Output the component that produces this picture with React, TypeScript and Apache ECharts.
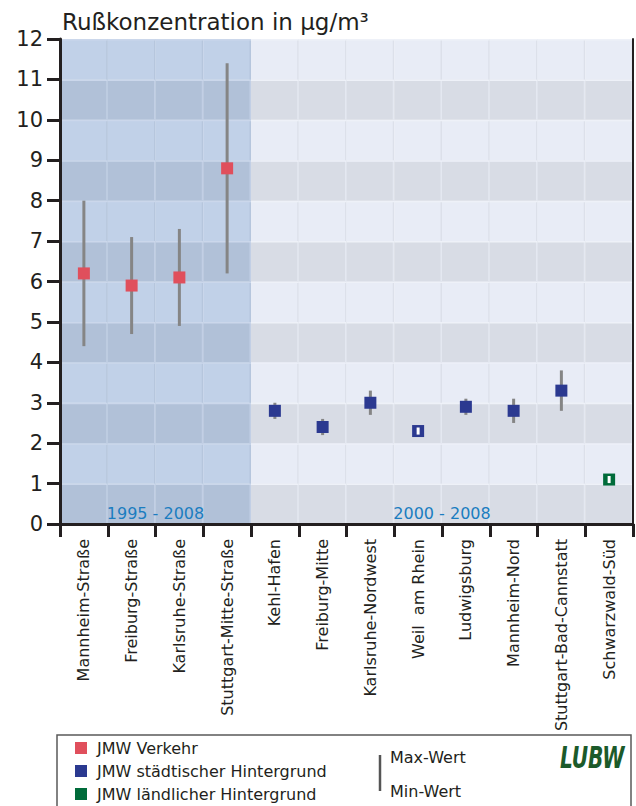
import React, { useEffect, useRef } from "react";
import * as echarts from "echarts";

const categories = [
  "Mannheim-Straße",
  "Freiburg-Straße",
  "Karlsruhe-Straße",
  "Stuttgart-Mitte-Straße",
  "Kehl-Hafen",
  "Freiburg-Mitte",
  "Karlsruhe-Nordwest",
  "Weil  am Rhein",
  "Ludwigsburg",
  "Mannheim-Nord",
  "Stuttgart-Bad-Cannstatt",
  "Schwarzwald-Süd",
];
const stationGroup = [
  "Verkehr", "Verkehr", "Verkehr", "Verkehr",
  "städtisch", "städtisch", "städtisch", "städtisch", "städtisch", "städtisch", "städtisch",
  "ländlich",
];
const values = [6.2, 5.9, 6.1, 8.8, 2.8, 2.4, 3.0, 2.3, 2.9, 2.8, 3.3, 1.1];
const minValues = [4.4, 4.7, 4.9, 6.2, 2.6, 2.2, 2.7, 2.2, 2.7, 2.5, 2.8, 1.0];
const maxValues = [8.0, 7.1, 7.3, 11.4, 3.0, 2.6, 3.3, 2.4, 3.1, 3.1, 3.8, 1.2];

const groupKeys = ["Verkehr", "städtisch", "ländlich"];
const groupNames = ["JMW Verkehr", "JMW städtischer Hintergrund", "JMW ländlicher Hintergrund"];
const groupColors = ["#e04f5c", "#2b3990", "#006b3a"];

const periodLabels = ["1995 - 2008", "2000 - 2008"];
const periodStart = [0, 4];
const periodEnd = [3, 11];

const yMin = 0;
const yMax = 12;
const yInterval = 1;

const titleText = "Rußkonzentration in µg/m³";
const maxLabel = "Max-Wert";
const minLabel = "Min-Wert";
const logoText = "LUBW";

const FONT = '"DejaVu Sans", sans-serif';
const INK = "#231f20";

const bgPalette = [
  { light: "#c1d1e8", dark: "#b1c1d8", vLight: "#b6c6dd", vDark: "#c2cfe5", h: "#cbd7eb" },
  { light: "#e8ecf6", dark: "#d8dce5", vLight: "#dce0ea", vDark: "#e4e8f1", h: "#eef1f8" },
];

function regionOf(i: number): number {
  for (let r = 0; r < periodStart.length; r++) {
    if (i >= periodStart[r] && i <= periodEnd[r]) return r;
  }
  return 0;
}

export default function App() {
  const ref = useRef<HTMLDivElement>(null);

  useEffect(() => {
    if (!ref.current) return;
    const chart = echarts.init(ref.current, undefined, { renderer: "svg" });

    const bgData: number[][] = [];
    categories.forEach((_, i) => {
      for (let j = yMin; j < yMax; j += yInterval) {
        bgData.push([i, j, regionOf(i), j % 2 === 0 ? 1 : 0]);
      }
    });

    const errData = categories.map((_, i) => [i, minValues[i], maxValues[i], values[i]]);
    const periodData = periodLabels.map((_, r) => [periodStart[r], periodEnd[r], r]);
    const markerSize = 12;

    const scatterSeries = groupKeys.map((key, g) => ({
      type: "scatter",
      name: groupNames[g],
      z: 5,
      symbol: "rect",
      symbolSize: markerSize,
      itemStyle: { color: groupColors[g], opacity: 1 },
      data: categories
        .map((_, i) => (stationGroup[i] === key ? [i, values[i]] : null))
        .filter((d) => d !== null),
    }));

    const option: any = {
      animation: false,
      textStyle: { fontFamily: FONT },
      grid: { left: 60, right: 3, top: 39, bottom: 282, containLabel: false },
      xAxis: [
        {
          type: "category",
          data: categories,
          boundaryGap: true,
          z: 3,
          axisLine: { show: true, lineStyle: { color: INK, width: 3 } },
          axisTick: { show: true, interval: 0, length: 13, lineStyle: { color: INK, width: 3 } },
          axisLabel: {
            interval: 0,
            rotate: 90,
            margin: 15,
            fontSize: 16,
            fontFamily: FONT,
            color: INK,
          },
          splitLine: { show: false },
        },
        {
          type: "category",
          data: categories,
          position: "top",
          z: 3,
          axisLine: { show: true, lineStyle: { color: INK, width: 2 } },
          axisTick: { show: false },
          axisLabel: { show: false },
          splitLine: { show: false },
        },
      ],
      yAxis: [
        {
          type: "value",
          min: yMin,
          max: yMax,
          interval: yInterval,
          z: 3,
          axisLine: { show: true, onZero: false, lineStyle: { color: INK, width: 3 } },
          axisTick: { show: true, length: 13, lineStyle: { color: INK, width: 3 } },
          axisLabel: { margin: 17, fontSize: 21, fontFamily: FONT, color: INK },
          splitLine: { show: false },
        },
        {
          type: "value",
          min: yMin,
          max: yMax,
          interval: yInterval,
          position: "right",
          z: 3,
          axisLine: { show: true, onZero: false, lineStyle: { color: INK, width: 2 } },
          axisTick: { show: false },
          axisLabel: { show: false },
          splitLine: { show: false },
        },
      ],
      series: [
        {
          type: "custom",
          z: 1,
          silent: true,
          clip: true,
          encode: { x: 0, y: 1 },
          data: bgData,
          renderItem: (params: any, api: any) => {
            const i = api.value(0);
            const j = api.value(1);
            const pal = bgPalette[api.value(2)];
            const dark = api.value(3) === 1;
            const p0 = api.coord([i, j]);
            const p1 = api.coord([i, j + yInterval]);
            const bw = api.size([1, 0])[0];
            const x0 = p0[0] - bw / 2;
            const h = p0[1] - p1[1];
            return {
              type: "group",
              children: [
                { type: "rect", shape: { x: x0, y: p1[1], width: bw, height: h }, style: { fill: dark ? pal.dark : pal.light } },
                { type: "rect", shape: { x: x0 + bw - 1.5, y: p1[1], width: 1.5, height: h }, style: { fill: dark ? pal.vDark : pal.vLight } },
                { type: "rect", shape: { x: x0, y: p1[1], width: bw, height: 1.5 }, style: { fill: pal.h } },
              ],
            };
          },
        },
        {
          type: "custom",
          z: 2,
          silent: true,
          encode: { x: 0, y: 1 },
          data: periodData,
          renderItem: (params: any, api: any) => {
            const a = api.coord([api.value(0), 0.27]);
            const b = api.coord([api.value(1), 0.27]);
            return {
              type: "text",
              style: {
                text: periodLabels[api.value(2)],
                x: (a[0] + b[0]) / 2,
                y: a[1],
                align: "center",
                verticalAlign: "middle",
                font: `16px ${FONT}`,
                fill: "#1b7dc0",
              },
            };
          },
        },
        {
          type: "custom",
          z: 4,
          silent: true,
          encode: { x: 0, y: [1, 2] },
          data: errData,
          renderItem: (params: any, api: any) => {
            const i = api.value(0);
            const a = api.coord([i, api.value(1)]);
            const b = api.coord([i, api.value(2)]);
            return {
              type: "line",
              shape: { x1: a[0], y1: a[1], x2: b[0], y2: b[1] },
              style: { stroke: "#858585", lineWidth: 3 },
            };
          },
        },
        ...scatterSeries,
        {
          type: "custom",
          z: 6,
          silent: true,
          encode: { x: 0, y: [1, 2] },
          data: errData,
          renderItem: (params: any, api: any) => {
            const i = api.value(0);
            const a = api.coord([i, api.value(1)]);
            const b = api.coord([i, api.value(2)]);
            const c = api.coord([i, api.value(3)]);
            const half = markerSize / 2;
            if (a[1] - c[1] > half || c[1] - b[1] > half) return null;
            return {
              type: "line",
              shape: { x1: a[0], y1: a[1] - 0.5, x2: b[0], y2: b[1] + 0.5 },
              style: { stroke: "#ffffff", lineWidth: 3 },
            };
          },
        },
      ],
      graphic: [
        {
          type: "text",
          x: 62,
          y: 22,
          style: { text: titleText, font: `23px ${FONT}`, fill: INK, verticalAlign: "middle" },
        },
        {
          type: "rect",
          shape: { x: 57, y: 735, width: 574, height: 90 },
          style: { fill: "#ffffff", stroke: "#5a5a5a", lineWidth: 1.5 },
        },
        ...groupNames.flatMap((name, g) => [
          {
            type: "rect",
            shape: { x: 75, y: 742 + g * 23, width: 12, height: 12 },
            style: { fill: groupColors[g] },
          },
          {
            type: "text",
            x: 97,
            y: 748 + g * 23,
            style: { text: name, font: `16px ${FONT}`, fill: INK, verticalAlign: "middle" },
          },
        ]),
        {
          type: "line",
          shape: { x1: 380, y1: 755, x2: 380, y2: 791 },
          style: { stroke: "#555555", lineWidth: 2.5 },
        },
        {
          type: "text",
          x: 390,
          y: 757,
          style: { text: maxLabel, font: `16px ${FONT}`, fill: INK, verticalAlign: "middle" },
        },
        {
          type: "text",
          x: 390,
          y: 791,
          style: { text: minLabel, font: `16px ${FONT}`, fill: INK, verticalAlign: "middle" },
        },
        {
          type: "text",
          x: 560,
          y: 757,
          scaleX: 0.65,
          style: {
            text: logoText,
            font: `italic bold 31px ${FONT}`,
            fill: "#1b5a2a",
            verticalAlign: "middle",
          },
        },
      ],
    };

    chart.setOption(option);
    return () => chart.dispose();
  }, []);

  return (
    <div
      ref={ref}
      style={{ position: "fixed", left: 0, top: 0, width: 636, height: 806, background: "#ffffff" }}
    />
  );
}
